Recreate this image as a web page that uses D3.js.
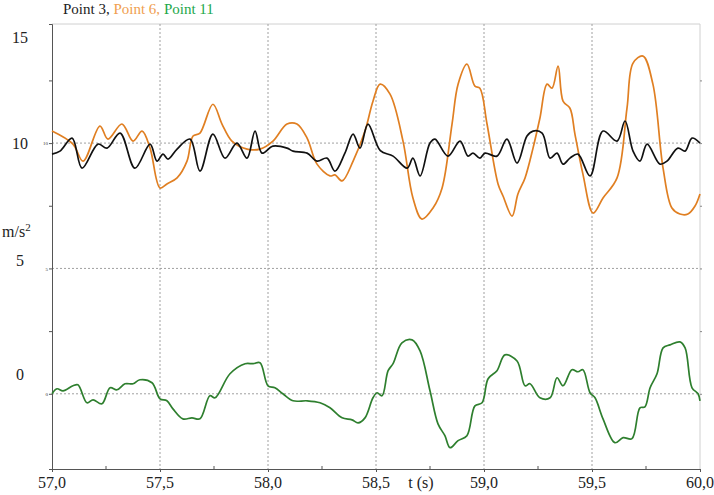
<!DOCTYPE html>
<html>
<head>
<meta charset="utf-8">
<script src="https://cdn.jsdelivr.net/npm/d3@7"></script>
<style>
  body { margin: 0; background: #fff; }
</style>
</head>
<body>
<div id="chart"></div>
<script>
// values (t in s, acceleration in m/s2)
let tBlack = [57.000, 57.037, 57.093, 57.139, 57.213, 57.255, 57.315, 57.384, 57.454, 57.486, 57.514, 57.537, 57.579, 57.639, 57.685, 57.745, 57.801, 57.856, 57.903, 57.940, 57.972, 58.023, 58.088, 58.116, 58.181, 58.227, 58.273, 58.310, 58.356, 58.394, 58.426, 58.463, 58.520, 58.579, 58.644, 58.671, 58.704, 58.750, 58.773, 58.833, 58.889, 58.926, 58.949, 58.981, 59.005, 59.060, 59.106, 59.153, 59.199, 59.227, 59.269, 59.306, 59.338, 59.366, 59.398, 59.435, 59.491, 59.551, 59.616, 59.653, 59.690, 59.722, 59.755, 59.815, 59.847, 59.898, 59.931, 59.963, 60.000];
let point3 = [9.56, 9.68, 10.20, 9.00, 9.96, 9.80, 10.40, 9.00, 9.96, 9.28, 9.56, 9.36, 9.76, 10.16, 8.88, 10.36, 9.40, 10.00, 9.40, 10.48, 9.60, 9.88, 9.80, 9.68, 9.60, 9.28, 9.40, 8.88, 9.60, 10.36, 9.80, 10.76, 9.70, 9.48, 9.00, 9.40, 8.69, 10.00, 10.16, 9.48, 10.08, 9.48, 9.60, 9.40, 9.60, 9.48, 10.16, 9.20, 10.28, 10.48, 10.40, 9.40, 9.60, 9.16, 9.40, 9.56, 8.69, 10.48, 10.08, 10.88, 9.68, 9.28, 9.96, 9.16, 9.28, 9.80, 9.68, 10.20, 10.00];

let tOrange = [57.000, 57.097, 57.144, 57.222, 57.259, 57.324, 57.375, 57.417, 57.454, 57.500, 57.532, 57.579, 57.625, 57.653, 57.685, 57.745, 57.787, 57.833, 57.903, 57.963, 58.023, 58.088, 58.134, 58.181, 58.227, 58.287, 58.310, 58.343, 58.394, 58.449, 58.486, 58.519, 58.565, 58.625, 58.671, 58.713, 58.764, 58.806, 58.852, 58.880, 58.921, 58.958, 58.981, 59.014, 59.065, 59.088, 59.130, 59.157, 59.190, 59.227, 59.259, 59.292, 59.315, 59.343, 59.366, 59.398, 59.421, 59.458, 59.505, 59.551, 59.616, 59.662, 59.690, 59.736, 59.782, 59.829, 59.870, 59.907, 59.944, 59.977, 60.000];
let point6 = [10.48, 9.96, 9.28, 10.68, 10.16, 10.76, 10.08, 10.48, 9.80, 8.21, 8.37, 8.61, 9.28, 10.28, 10.40, 11.55, 10.76, 10.08, 9.76, 9.76, 10.08, 10.76, 10.76, 10.20, 9.16, 8.69, 8.73, 8.49, 9.28, 10.48, 11.67, 12.35, 11.95, 10.08, 7.81, 6.97, 7.41, 8.21, 10.76, 12.35, 13.15, 12.27, 12.19, 10.76, 8.37, 7.89, 7.09, 7.97, 8.61, 9.80, 11.00, 12.35, 12.19, 13.07, 11.67, 11.39, 10.36, 8.76, 7.21, 7.81, 8.61, 11.39, 13.19, 13.47, 12.35, 9.00, 7.41, 7.17, 7.17, 7.49, 7.97];

let tGreen = [57.000, 57.023, 57.051, 57.097, 57.120, 57.162, 57.190, 57.231, 57.269, 57.301, 57.338, 57.375, 57.407, 57.463, 57.500, 57.532, 57.560, 57.606, 57.648, 57.685, 57.731, 57.755, 57.824, 57.894, 57.931, 57.963, 58.000, 58.032, 58.069, 58.116, 58.181, 58.241, 58.287, 58.343, 58.389, 58.417, 58.449, 58.486, 58.505, 58.528, 58.556, 58.579, 58.620, 58.667, 58.704, 58.750, 58.787, 58.819, 58.843, 58.880, 58.921, 58.958, 58.991, 59.019, 59.060, 59.097, 59.153, 59.190, 59.213, 59.259, 59.306, 59.338, 59.366, 59.407, 59.435, 59.458, 59.491, 59.514, 59.551, 59.606, 59.644, 59.685, 59.722, 59.745, 59.769, 59.801, 59.829, 59.861, 59.907, 59.931, 59.963, 59.991, 60.000];
let point11 = [0.00, 0.20, 0.12, 0.32, 0.36, -0.36, -0.24, -0.40, 0.24, 0.16, 0.40, 0.40, 0.56, 0.44, -0.20, -0.28, -0.60, -1.00, -0.96, -1.00, -0.08, -0.16, 0.80, 1.20, 1.20, 1.24, 0.32, 0.24, 0.00, -0.28, -0.28, -0.36, -0.56, -0.96, -1.04, -1.16, -0.96, -0.16, 0.04, -0.08, 0.92, 1.20, 2.03, 2.15, 1.71, 0.12, -1.20, -1.67, -2.15, -1.87, -1.67, -0.48, -0.36, 0.60, 0.92, 1.55, 1.31, 0.32, 0.40, -0.16, -0.16, 0.64, 0.32, 0.96, 0.88, 0.96, 0.04, -0.16, -1.00, -1.95, -1.75, -1.79, -0.56, -0.52, 0.24, 0.80, 1.83, 1.95, 2.07, 1.83, 0.24, 0.00, -0.28];

let xTicks = [57.0, 57.5, 58.0, 58.5, 59.0, 59.5, 60.0];
let xMinor = [57.25, 57.75, 58.25, 58.75, 59.25, 59.75];
let yTicks = [0, 5, 10];
let yMinor = [2.5, 7.5, 12.5];
let yLabels = [15, 10, 5, 0];

const width = 714,
    height = 495;
const mLeft = 52, mRight = 700, mTop = 24, mBottom = 469;
const serif = "'Liberation Serif', 'Times New Roman', 'DejaVu Serif', serif";

let x = d3.scaleLinear().domain([57, 60]).range([mLeft, mRight]);
let y = d3.scaleLinear().domain([-3, 14.75]).range([mBottom, mTop]);

let svg = d3.select("#chart")
    .append("svg")
    .attr("width", width)
    .attr("height", height)
    .style("font-family", serif);

// frame (light top and right edge)
svg.append("path")
    .attr("d", "M" + mLeft + "," + mTop + "H" + mRight + "V" + mBottom)
    .attr("fill", "none")
    .attr("stroke", "#d0d0d0")
    .attr("stroke-width", 1);

// dotted grid
svg.selectAll(".vgrid")
    .data(xTicks.slice(1, -1))
    .enter()
    .append("line")
    .attr("x1", d => x(d)).attr("x2", d => x(d))
    .attr("y1", mTop).attr("y2", mBottom)
    .attr("stroke", "#a0a0a0")
    .attr("stroke-dasharray", "2,2");

svg.selectAll(".hgrid")
    .data(yTicks)
    .enter()
    .append("line")
    .attr("x1", mLeft).attr("x2", mRight)
    .attr("y1", d => y(d)).attr("y2", d => y(d))
    .attr("stroke", "#a0a0a0")
    .attr("stroke-dasharray", "2,2");

// axes
let xAxis = svg.append("g")
    .attr("transform", "translate(0," + mBottom + ")")
    .call(d3.axisBottom(x).tickValues(xTicks).tickSize(3).tickFormat(""));
xAxis.append("g").selectAll("line")
    .data(xMinor)
    .enter()
    .append("line")
    .attr("x1", d => x(d)).attr("x2", d => x(d))
    .attr("y1", 0).attr("y2", -3)
    .attr("stroke", "#555");
xAxis.select(".domain").attr("stroke", "#555");
xAxis.selectAll(".tick line").attr("stroke", "#555");

let yAxis = svg.append("g")
    .attr("transform", "translate(" + mLeft + ",0)")
    .call(d3.axisLeft(y).tickValues(yTicks.concat(yMinor)).tickSize(3).tickPadding(1).tickFormat(d => yTicks.includes(d) ? d : ""));
yAxis.style("font-family", serif);
yAxis.select(".domain").attr("stroke", "#555");
yAxis.selectAll(".tick line").attr("stroke", "#555");
yAxis.selectAll(".tick text").attr("font-size", 5).attr("fill", "#333");

let yRight = svg.append("g")
    .attr("transform", "translate(" + mRight + ",0)")
    .call(d3.axisRight(y).tickValues(yTicks.concat(yMinor)).tickSize(2).tickFormat(""));
yRight.select(".domain").remove();
yRight.selectAll(".tick line").attr("stroke", "#888");

// big labels
svg.selectAll(".xlab")
    .data(xTicks)
    .enter()
    .append("text")
    .attr("x", d => x(d))
    .attr("y", 488)
    .attr("text-anchor", "middle")
    .attr("font-size", 16)
    .attr("fill", "#222")
    .text(d => d3.format(".1f")(d).replace(".", ","));

svg.append("text")
    .attr("x", 421).attr("y", 488)
    .attr("text-anchor", "middle")
    .attr("font-size", 16)
    .attr("fill", "#222")
    .text("t (s)");

let yLabelPos = { 15: 43, 10: 149, 5: 266, 0: 380 };
svg.selectAll(".ylab")
    .data(yLabels)
    .enter()
    .append("text")
    .attr("x", 20)
    .attr("y", d => yLabelPos[d])
    .attr("text-anchor", "middle")
    .attr("font-size", 16)
    .attr("fill", "#222")
    .text(d => d);

let unit = svg.append("text")
    .attr("x", 2).attr("y", 237)
    .attr("font-size", 16)
    .attr("fill", "#222");
unit.append("tspan").text("m/s");
unit.append("tspan").attr("dy", -6).attr("font-size", 11).text("2");

// title
let title = svg.append("text")
    .attr("x", 63).attr("y", 14)
    .attr("font-size", 15);
title.append("tspan").attr("fill", "#222").text("Point 3, ");
title.append("tspan").attr("fill", "#f0a050").text("Point 6, ");
title.append("tspan").attr("fill", "#22a84a").text("Point 11");

// series
let line = d3.line()
    .x(d => x(d[0]))
    .y(d => y(d[1]))
    .curve(d3.curveCatmullRom.alpha(0.5));

let series = [
    { t: tOrange, v: point6, color: "#e07f22" },
    { t: tBlack, v: point3, color: "#111" },
    { t: tGreen, v: point11, color: "#2e7f2e" }
];

svg.selectAll(".series")
    .data(series)
    .enter()
    .append("path")
    .attr("d", s => line(d3.zip(s.t, s.v)))
    .attr("fill", "none")
    .attr("stroke", s => s.color)
    .style("stroke-width", "1.7px")
    .attr("stroke-linejoin", "round");
</script>
</body>
</html>
